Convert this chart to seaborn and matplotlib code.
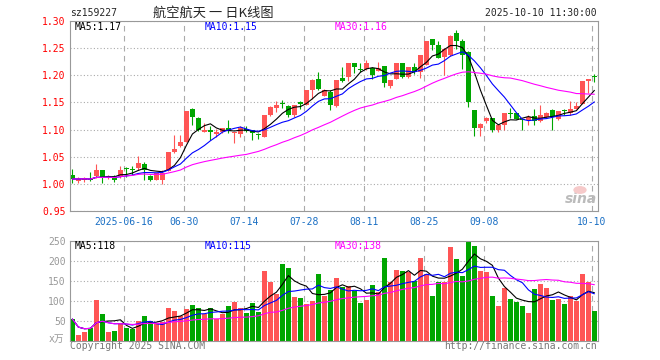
import matplotlib
matplotlib.use('Agg')  # no display
import numpy as np
import pandas as pd
import matplotlib.pyplot as plt
import seaborn as sns

W, H = 660, 360

# daily bars, 2025-06-03 .. 2025-10-10 (88 trading days)
opens = [1.017, 1.005, 1.007, 1.009, 1.015, 1.026, 1.012, 1.014, 1.014, 1.030,
         1.026, 1.030, 1.037, 1.015, 1.008, 1.008, 1.023, 1.058, 1.069, 1.078,
         1.137, 1.121, 1.095, 1.100, 1.092, 1.096, 1.103, 1.094, 1.091, 1.101,
         1.100, 1.091, 1.086, 1.126, 1.140, 1.149, 1.144, 1.126, 1.150, 1.145,
         1.173, 1.193, 1.161, 1.170, 1.144, 1.195, 1.197, 1.222, 1.210, 1.212,
         1.214, 1.208, 1.217, 1.180, 1.194, 1.222, 1.197, 1.215, 1.206, 1.219,
         1.266, 1.255, 1.234, 1.237, 1.277, 1.264, 1.242, 1.136, 1.102, 1.115,
         1.122, 1.100, 1.109, 1.131, 1.130, 1.120, 1.118, 1.125, 1.115, 1.124,
         1.136, 1.120, 1.135, 1.130, 1.138, 1.147, 1.189, 1.197]
closes = [1.009, 1.009, 1.010, 1.007, 1.025, 1.011, 1.015, 1.007, 1.026, 1.027,
          1.025, 1.039, 1.026, 1.007, 1.020, 1.020, 1.058, 1.065, 1.078, 1.134,
          1.124, 1.100, 1.100, 1.095, 1.096, 1.103, 1.097, 1.096, 1.102, 1.097,
          1.093, 1.090, 1.126, 1.142, 1.145, 1.147, 1.126, 1.146, 1.148, 1.173,
          1.191, 1.175, 1.172, 1.145, 1.191, 1.190, 1.223, 1.215, 1.209, 1.222,
          1.201, 1.214, 1.185, 1.191, 1.223, 1.197, 1.215, 1.206, 1.237, 1.264,
          1.256, 1.232, 1.249, 1.273, 1.264, 1.237, 1.150, 1.103, 1.110, 1.122,
          1.100, 1.109, 1.130, 1.129, 1.120, 1.117, 1.124, 1.116, 1.127, 1.130,
          1.124, 1.134, 1.134, 1.138, 1.144, 1.189, 1.194, 1.196]
highs = [1.028, 1.012, 1.012, 1.021, 1.037, 1.026, 1.017, 1.017, 1.032, 1.031,
         1.032, 1.051, 1.040, 1.017, 1.020, 1.025, 1.058, 1.090, 1.090, 1.134,
         1.140, 1.124, 1.113, 1.107, 1.101, 1.103, 1.118, 1.096, 1.106, 1.107,
         1.100, 1.093, 1.126, 1.143, 1.153, 1.154, 1.145, 1.146, 1.153, 1.173,
         1.194, 1.206, 1.175, 1.173, 1.191, 1.215, 1.223, 1.222, 1.222, 1.228,
         1.215, 1.225, 1.217, 1.191, 1.223, 1.222, 1.215, 1.222, 1.237, 1.264,
         1.267, 1.264, 1.250, 1.275, 1.283, 1.267, 1.244, 1.136, 1.112, 1.123,
         1.122, 1.109, 1.130, 1.139, 1.130, 1.120, 1.127, 1.138, 1.145, 1.133,
         1.138, 1.134, 1.138, 1.153, 1.151, 1.189, 1.194, 1.202]
lows = [1.002, 1.002, 1.004, 1.005, 1.011, 1.002, 1.009, 1.004, 1.010, 1.013,
        1.017, 1.026, 1.007, 1.005, 1.008, 0.999, 1.023, 1.057, 1.068, 1.078,
        1.109, 1.098, 1.095, 1.081, 1.087, 1.093, 1.093, 1.075, 1.086, 1.096,
        1.081, 1.082, 1.086, 1.125, 1.133, 1.139, 1.124, 1.124, 1.138, 1.145,
        1.156, 1.173, 1.161, 1.136, 1.142, 1.188, 1.189, 1.205, 1.206, 1.209,
        1.194, 1.207, 1.179, 1.176, 1.193, 1.195, 1.195, 1.203, 1.195, 1.219,
        1.246, 1.232, 1.201, 1.235, 1.248, 1.211, 1.142, 1.088, 1.088, 1.113,
        1.096, 1.095, 1.100, 1.122, 1.120, 1.100, 1.109, 1.109, 1.114, 1.122,
        1.100, 1.118, 1.126, 1.126, 1.137, 1.147, 1.168, 1.187]
# volume in 万 (10k)
volumes = [54, 14, 22, 33, 102, 67, 22, 25, 45, 33,
           29, 49, 62, 50, 42, 47, 82, 75, 62, 79,
           89, 82, 66, 82, 54, 66, 87, 97, 82, 70,
           94, 72, 175, 147, 118, 192, 182, 109, 107, 92,
           100, 167, 113, 127, 157, 135, 137, 125, 95, 102,
           139, 122, 207, 147, 177, 174, 171, 149, 207, 168,
           112, 147, 147, 234, 204, 162, 247, 237, 174, 172,
           112, 87, 132, 104, 97, 87, 69, 129, 142, 132,
           102, 104, 92, 112, 100, 167, 147, 74]

date_idx = [9, 19, 29, 39, 49, 59, 69, 87]
date_labels = ['2025-06-16', '06-30', '07-14', '07-28', '08-11', '08-25', '09-08', '10-10']
price_ticks = [0.95, 1.00, 1.05, 1.10, 1.15, 1.20, 1.25, 1.30]
vol_ticks = [50, 100, 150, 200, 250]
ma_windows = [5, 10, 30]
ma_colors = ['#000000', '#0000ff', '#ff00ff']
price_ma_text = ['1.17', '1.15', '1.16']
vol_ma_text = ['118', '115', '138']

RED, GREEN = '#ff5555', '#00a600'
GRID = '#aaaaaa'

df = pd.DataFrame({'open': opens, 'close': closes, 'high': highs,
                   'low': lows, 'volume': volumes})
df['x'] = np.arange(len(df))
df['color'] = np.where(df['close'] >= df['open'], RED, GREEN)

sns.set_style('white')
plt.rcParams['font.family'] = ['DejaVu Sans Mono', 'Noto Sans CJK SC']
plt.rcParams['font.size'] = 7

fig = plt.figure(figsize=(W / 100, H / 100), dpi=100)
ax1 = fig.add_axes([70 / W, 1 - 211 / H, 528 / W, 190 / H])
ax2 = fig.add_axes([70 / W, 1 - 340.7 / H, 528 / W, 100 / H])

# --- candles ---
ax1.vlines(df['x'] + 0.4, df['low'], df['high'], colors=df['color'], lw=0.8, zorder=2)
body_low = np.minimum(df['open'], df['close'])
body_h = np.maximum((df['close'] - df['open']).abs(), 0.0018)
ax1.bar(df['x'], body_h, bottom=body_low, width=0.8, align='edge',
        color=df['color'], linewidth=0, zorder=2)

# --- volume bars ---
ax2.bar(df['x'], df['volume'], width=0.8, align='edge', color=df['color'],
        linewidth=0, zorder=2)

# moving averages
for w, col in zip(ma_windows, ma_colors):
    sns.lineplot(x=df['x'] + 0.4, y=df['close'].rolling(w, min_periods=1).mean(),
                 ax=ax1, color=col, lw=0.8, zorder=3)
    sns.lineplot(x=df['x'] + 0.4, y=df['volume'].rolling(w, min_periods=1).mean(),
                 ax=ax2, color=col, lw=0.8, zorder=3)

for ax in (ax1, ax2):
    ax.set_xlim(0, 88)
    ax.set_xlabel('')
    ax.set_ylabel('')
    ax.set_xticks(date_idx)
    ax.xaxis.grid(True, linestyle=(0, (5, 4)), color=GRID, lw=0.8)
    ax.yaxis.grid(True, linestyle=(0, (1, 2)), color=GRID, lw=0.8)
    ax.set_axisbelow(True)
    ax.tick_params(length=0, labelsize=7)
    for s in ax.spines.values():
        s.set_color('#999999')
        s.set_linewidth(0.8)

ax1.set_ylim(0.95, 1.30)
ax1.set_yticks(price_ticks)
ax1.set_yticklabels([f'{t:.2f}' for t in price_ticks])
ax1.tick_params(axis='y', pad=3, labelcolor='#ff0000')
ax1.set_xticklabels(date_labels)
ax1.tick_params(axis='x', pad=4, labelcolor='#1a6fc4')

ax2.set_ylim(0, 250)
ax2.set_yticks(vol_ticks)
ax2.set_yticklabels([str(t) for t in vol_ticks])
ax2.tick_params(axis='y', pad=3, labelcolor='#999999')
ax2.set_xticklabels([])

# header / legend texts
def ftext(x, y, s, **kw):
    fig.text(x / W, 1 - y / H, s, va='center', **kw)

ftext(70, 13.5, 'sz159227', fontsize=7)
ftext(213, 13, '航空航天 一 日K线图', fontsize=9.5, ha='center',
      family=['Noto Sans CJK SC', 'DejaVu Sans'])
ftext(597, 13.5, '2025-10-10 11:30:00', fontsize=7, ha='right')
for xp, w, col, pt, vt in zip([75, 205, 335], ma_windows, ma_colors, price_ma_text, vol_ma_text):
    ftext(xp, 27, f'MA{w}:{pt}', fontsize=7, color=col)
    ftext(xp, 246, f'MA{w}:{vt}', fontsize=7, color=col)

ftext(49, 339, 'x万', fontsize=7, color='#999999')
ftext(70, 346, 'Copyright 2025 SINA.COM', fontsize=7, color='#777777')
ftext(597, 346, 'http://finance.sina.com.cn', fontsize=7, color='#777777', ha='right')

# sina watermark
fig.patches.append(plt.Circle((580 / W, 1 - 190 / H), 0.009, transform=fig.transFigure,
                              color='#f6caca', zorder=5))
ftext(581, 199, 'sina', fontsize=10, color='#bbbbbb', ha='center',
      style='italic', weight='bold', family='DejaVu Sans')

fig.savefig('out.png', dpi=100)
plt.close(fig)
